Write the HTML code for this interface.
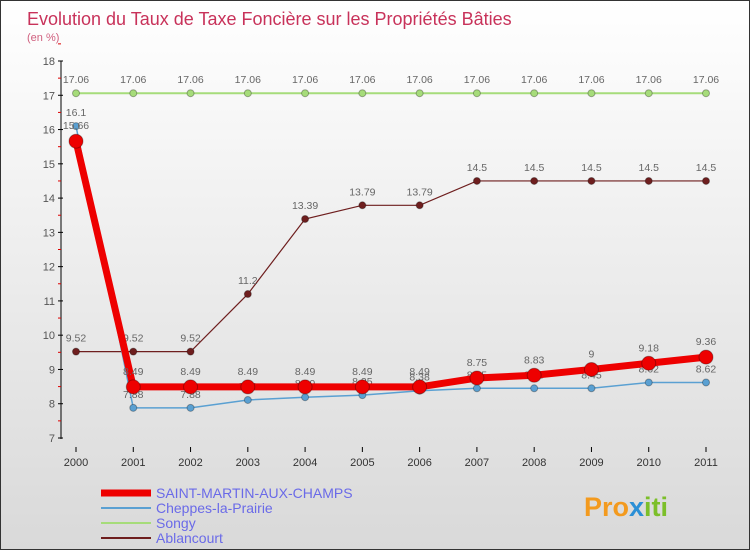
<!DOCTYPE html>
<html><head><meta charset="utf-8"><style>
body{margin:0;}
#c{width:750px;height:550px;position:relative;overflow:hidden;box-sizing:border-box;border:1px solid #333;background:linear-gradient(#ffffff,#d9d9d9);font-family:"Liberation Sans",sans-serif;}
svg text{font-family:"Liberation Sans",sans-serif;}
</style></head><body>
<div id="c">
<svg id="s" width="750" height="550">
<text x="26" y="24" font-size="18" fill="#c8325a">Evolution du Taux de Taxe Foncière sur les Propriétés Bâties</text>
<text x="26" y="40" font-size="11" fill="#d0607f">(en %)</text>
<g id="axes"></g><g id="series"></g><g id="legend"></g>
<text x="583" y="515" font-size="27" font-weight="bold" fill="#f39a1e">Pro<tspan fill="#2a8fd6">x</tspan><tspan fill="#7cbf2a">iti</tspan></text>
</svg></div>
<script>
const years=[2000,2001,2002,2003,2004,2005,2006,2007,2008,2009,2010,2011];
const yTicks=[7,8,9,10,11,12,13,14,15,16,17,18];
const saintMartin=[15.66,8.49,8.49,8.49,8.49,8.49,8.49,8.75,8.83,9,9.18,9.36];
const cheppes=[16.1,7.88,7.88,8.11,8.19,8.25,8.38,8.45,8.45,8.45,8.62,8.62];
const songy=[17.06,17.06,17.06,17.06,17.06,17.06,17.06,17.06,17.06,17.06,17.06,17.06];
const ablancourt=[9.52,9.52,9.52,11.2,13.39,13.79,13.79,14.5,14.5,14.5,14.5,14.5];
const NS="http://www.w3.org/2000/svg";
const X=i=>75+i*(630/11);
const Y=v=>60+(18-v)*(377/11);
function mk(t,a,p){const e=document.createElementNS(NS,t);for(const k in a)e.setAttribute(k,a[k]);p.appendChild(e);return e;}
const ax=document.getElementById('axes');
let l=mk('line',{x1:60,y1:60,x2:60,y2:438,stroke:'#000'},ax);


yTicks.forEach(v=>{
 const t=mk('line',{x1:57,y1:Y(v),x2:62,y2:Y(v),stroke:'#000'},ax);
 
 
 const m=mk('line',{x1:57,y1:Y(v+0.5),x2:60,y2:Y(v+0.5),stroke:'#d00'},ax);
 
 
 const tx=mk('text',{x:54,y:Y(v)+4,'font-size':11,'text-anchor':'end',fill:'#555'},ax);tx.textContent=v;
 
 
});
years.forEach((y,i)=>{
 const t=mk('line',{x1:X(i),y1:446,x2:X(i),y2:451,stroke:'#000'},ax);
 
 
 const tx=mk('text',{x:X(i),y:465,'font-size':11,'text-anchor':'middle',fill:'#333'},ax);tx.textContent=y;
 
 
});
const sg=document.getElementById('series');
function series(vals,color,w,r,name,labelDy){
 const g=mk('g',{},sg);
 
 
 const pl=mk('polyline',{points:vals.map((v,i)=>X(i)+','+Y(v)).join(' '),fill:'none',stroke:color,'stroke-width':w},g);
 
 
 vals.forEach((v,i)=>{
  const c=mk('circle',{cx:X(i),cy:Y(v),r:r,fill:color,stroke:'rgba(0,0,0,0.3)'},g);
  
  
  const t=mk('text',{x:X(i),y:Y(v)+labelDy,'font-size':10.5,'text-anchor':'middle',fill:'#666'},g);t.textContent=v;
  
  
 });
}
series(songy,'#a6dc7a',2,3.5,'songy',-10);
series(ablancourt,'#6e1e1e',1.2,3.5,'ablancourt',-10);
series(cheppes,'#5aa0d2',1.5,3.5,'cheppes',-10);
series(saintMartin,'#ee0000',7,7,'saint-martin',-12);
const lg=document.getElementById('legend');
[['SAINT-MARTIN-AUX-CHAMPS','#ee0000',7],['Cheppes-la-Prairie','#5aa0d2',2],['Songy','#a6dc7a',2],['Ablancourt','#6e1e1e',2]].forEach((d,i)=>{
 const y=492+i*15;
 const ln=mk('line',{x1:100,y1:y,x2:150,y2:y,stroke:d[1],'stroke-width':d[2]},lg);
 
 
 const t=mk('text',{x:155,y:y+5,'font-size':14,fill:'#6a6ae8'},lg);t.textContent=d[0];
 
 
});
</script>
</body></html>
